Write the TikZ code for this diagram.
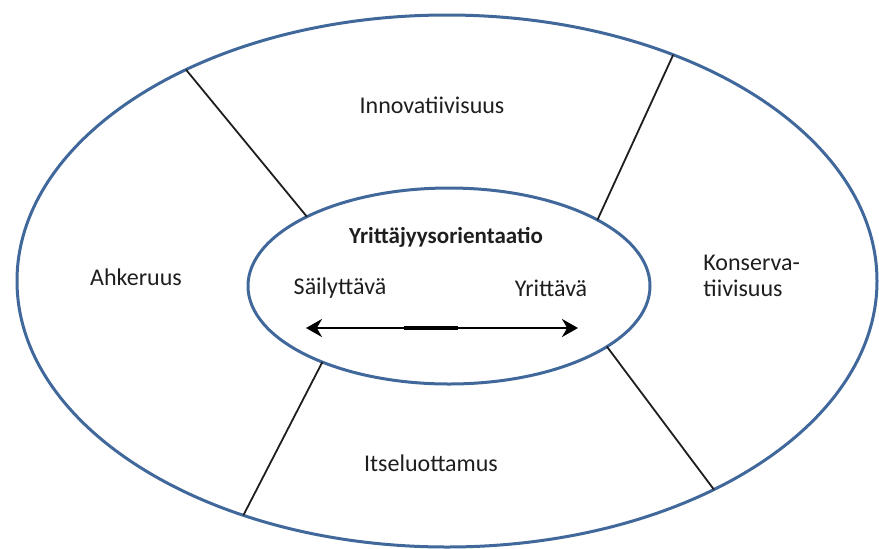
\documentclass[tikz,border=0pt]{standalone}
\usepackage{fontspec}
\setmainfont{Carlito}
\usetikzlibrary{shapes.geometric,arrows.meta}
\definecolor{rimblue}{HTML}{41689B}
\definecolor{inkdark}{HTML}{1E1E1E}
\tikzset{
  ring/.style={ellipse, draw=rimblue, line width=1.5pt, inner sep=0pt, outer sep=0pt},
  divider/.style={draw=inkdark, line width=0.9pt},
  lbl/.style={font=\fontsize{12}{13}\selectfont, text=inkdark, inner sep=0pt},
  headlbl/.style={font=\fontsize{11.5}{13}\selectfont\bfseries, text=inkdark, inner sep=0pt},
  scaleline/.style={draw=black, line width=1.3pt, {Stealth[length=8pt,width=9pt]}-{Stealth[length=8pt,width=9pt]}}
}
\begin{document}
\begin{tikzpicture}[x=0.5pt,y=-0.5pt]
\useasboundingbox (0,0) rectangle (879,548);
\node[ring, minimum width=430pt, minimum height=266pt] (outer) at (447,281) {};
\node[ring, minimum width=201pt, minimum height=98pt] (inner) at (449,286) {};
% dividers
\draw[divider] (outer.141) -- (inner.154);
\draw[divider] (outer.45) -- (inner.24.7);
\draw[divider] (inner.211.2) -- (outer.229.7);
\draw[divider] (inner.-21.3) -- (outer.-38.6);
% labels
\node[lbl] (inno) at (432,105) {Innovatiivisuus};
\node[lbl] (ahk) at (136,277) {Ahkeruus};
\node[lbl, anchor=west, align=left] (kons) at (703,276) {Konserva-\\tiivisuus};
\node[lbl] (itse) at (431,463) {Itseluottamus};
\node[headlbl] (yo) at (446,237) {Yrittäjyysorientaatio};
\node[lbl] (sail) at (340,288) {Säilyttävä};
\node[lbl] (yrit) at (551,288) {Yrittävä};
% arrow
\coordinate (aL) at (306,328);
\coordinate (aR) at (578,328);
\coordinate (mL) at (404,328);
\coordinate (mR) at (458,328);
\draw[scaleline] (aL) -- (aR);
\draw[draw=black, line width=2.2pt] (mL) -- (mR);
\end{tikzpicture}
\end{document}
